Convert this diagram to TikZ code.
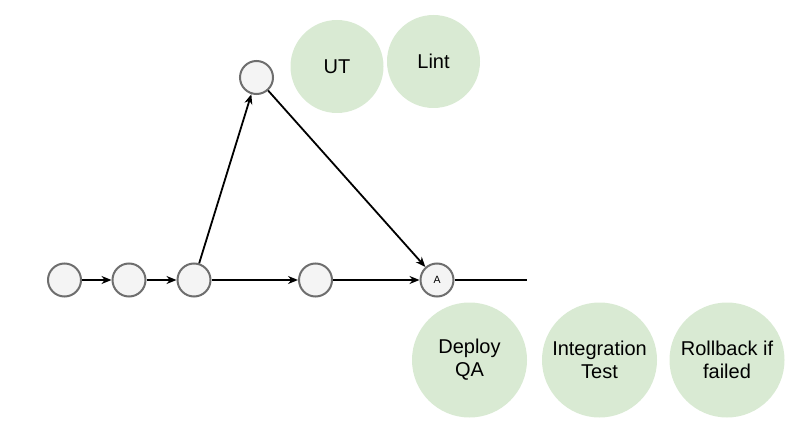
\documentclass[tikz,border=0pt]{standalone}
\usepackage{fontspec}
\setmainfont{Liberation Sans}
\usetikzlibrary{arrows.meta,shadows}
\definecolor{commitfill}{HTML}{F4F4F4}
\definecolor{commitdraw}{HTML}{6E6E6E}
\definecolor{stepgreen}{HTML}{D9EAD3}
\tikzset{
  commit/.style={circle, draw=commitdraw, line width=2pt, fill=commitfill,
    minimum size=33pt, inner sep=0pt, font=\fontsize{10.5}{12}\selectfont,
    drop shadow={shadow xshift=0.6pt, shadow yshift=-0.6pt, opacity=0.25}},
  stepbig/.style={circle, fill=stepgreen, draw=none, minimum size=115pt, inner sep=0pt,
    align=center, font=\fontsize{20}{23}\selectfont},
  stepsmall/.style={circle, fill=stepgreen, draw=none, minimum size=93pt, inner sep=0pt,
    align=center, font=\fontsize{20}{23}\selectfont},
  link/.style={line width=1.8pt, -{Stealth[length=10pt,width=8pt]}},
  plain/.style={line width=1.8pt}
}
\begin{document}
\begin{tikzpicture}[x=1pt,y=-1pt]
\useasboundingbox (0,0) rectangle (800,438);
% green step circles
\node[stepsmall] (ut) at (337,66.5) {UT};
\node[stepsmall] (lint) at (433.5,61.5) {Lint};
\node[stepbig] (deploy) at (469.5,360) {Deploy\\QA};
\node[stepbig] (itest) at (599.5,360) {Integration\\Test};
\node[stepbig] (rollback) at (727,360) {Rollback if\\failed};
% commits
\node[commit] (c1) at (64.5,280) {};
\node[commit] (c2) at (129,280) {};
\node[commit] (c3) at (194,280) {};
\node[commit] (c4) at (315.5,280) {};
\node[commit] (ca) at (437,280) {A};
\node[commit] (top) at (256.5,77.5) {};
\coordinate (end) at (527,280);
% connectors
\draw[link] (c1) -- (c2);
\draw[link] (c2) -- (c3);
\draw[link] (c3) -- (c4);
\draw[link] (c4) -- (ca);
\draw[link] (c3) -- (top);
\draw[link] (top) -- (ca);
\draw[plain] (ca) -- (end);
\end{tikzpicture}
\end{document}
